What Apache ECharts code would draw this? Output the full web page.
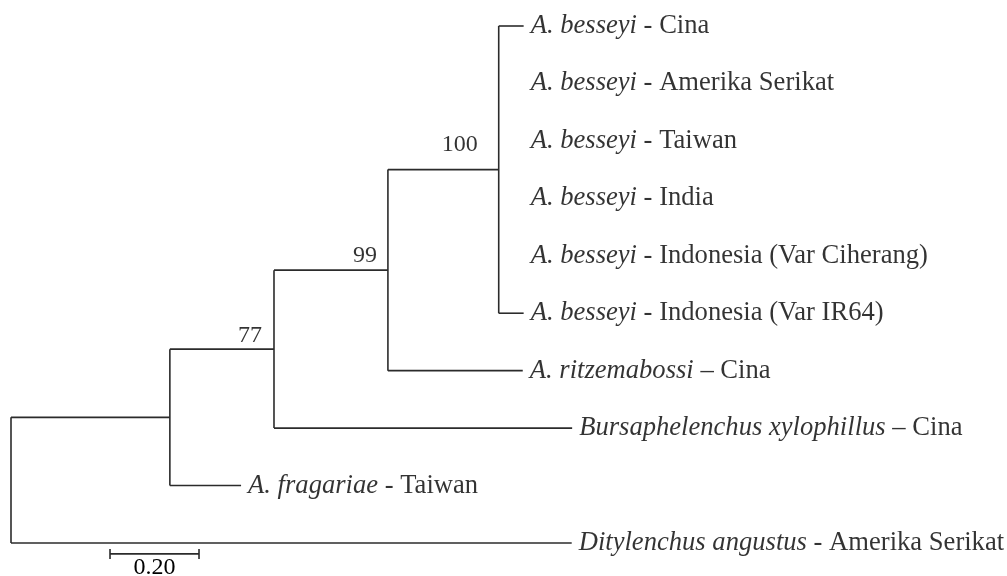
<!DOCTYPE html>
<html lang="id">
<head>
    <meta charset="utf-8">
    <script type="text/javascript" src="https://cdn.jsdelivr.net/npm/echarts@6/dist/echarts.min.js"></script>
</head>
<body style="margin: 0">
<div id="container" style="width:1007px;height:576px"></div>

<script type="text/javascript">
    // internal nodes of the tree (branch length = distance to parent)
    var innerNames = ['root', 'nA', 'n77', 'n99', 'n100'];
    var innerParent = [null, 'root', 'nA', 'n77', 'n99'];
    var innerLength = [0, 0.357, 0.234, 0.256, 0.249];
    var innerSupport = [null, null, 77, 99, 100];

    // tips, top to bottom
    var tipSpecies = ['A. besseyi', 'A. besseyi', 'A. besseyi', 'A. besseyi', 'A. besseyi', 'A. besseyi',
        'A. ritzemabossi', 'Bursaphelenchus xylophillus', 'A. fragariae', 'Ditylenchus angustus'];
    var tipPlace = [' - Cina', ' - Amerika Serikat', ' - Taiwan', ' - India', ' - Indonesia (Var Ciherang)',
        ' - Indonesia (Var IR64)', ' \u2013 Cina', ' \u2013 Cina', ' - Taiwan', ' - Amerika Serikat'];
    var tipParent = ['n100', 'n100', 'n100', 'n100', 'n100', 'n100', 'n99', 'n77', 'nA', 'root'];
    var tipLength = [0.056, 0, 0, 0, 0, 0.056, 0.303, 0.670, 0.160, 1.260];

    var scaleBarLength = 0.20;
    var scaleBarStart = 0.2225;
    var scaleBarText = '0.20';

    // label placement for support values (style only)
    var supportLabel = {
        77: {distance: 12, offset: [0, -13]},
        99: {distance: 11, offset: [0, -14]},
        100: {distance: 21, offset: [0, -25]}
    };

    var lineColor = '#2b2b2b';
    var serif = 'Liberation Serif';
    var tipFont = 26.6;

    // build tree layout: x = cumulative branch length, y = row
    var nodes = {};
    innerNames.forEach(function (n, i) {
        nodes[n] = {name: n, parent: innerParent[i], len: innerLength[i], support: innerSupport[i], children: []};
    });
    var tips = [];
    tipSpecies.forEach(function (s, i) {
        var t = {name: 'tip' + i, parent: tipParent[i], len: tipLength[i], row: i, tip: true, children: []};
        nodes[t.name] = t;
        tips.push(t);
    });
    var order = innerNames.concat(tips.map(function (t) { return t.name; }));
    order.forEach(function (n) {
        var nd = nodes[n];
        if (nd.parent) nodes[nd.parent].children.push(nd);
    });
    function setX(nd, x) {
        nd.x = x + nd.len;
        nd.children.forEach(function (c) { setX(c, nd.x); });
    }
    setX(nodes.root, 0);
    function setY(nd) {
        if (nd.tip) { nd.y = nd.row; return nd.y; }
        var ys = nd.children.map(setY);
        nd.minY = Math.min.apply(null, ys);
        nd.maxY = Math.max.apply(null, ys);
        nd.y = (nd.minY + nd.maxY) / 2;
        return nd.y;
    }
    setY(nodes.root);

    var segments = [];
    order.forEach(function (n) {
        var nd = nodes[n];
        if (nd.parent && nd.len > 0) {
            segments.push([nodes[nd.parent].x, nd.y, nd.x, nd.y]);
        }
        if (!nd.tip) {
            segments.push([nd.x, nd.minY, nd.x, nd.maxY]);
        }
    });

    var tipData = tips.map(function (t, i) {
        // labels of a clade line up at the longest sibling tip
        var lx = t.x;
        nodes[t.parent].children.forEach(function (c) { if (c.tip) lx = Math.max(lx, c.x); });
        return {value: [lx, t.y], name: tipSpecies[i], place: tipPlace[i]};
    });

    var supportData = [];
    innerNames.forEach(function (n) {
        var nd = nodes[n];
        if (nd.support != null) {
            var st = supportLabel[nd.support];
            supportData.push({
                value: [nodes[nd.parent].x + nd.len, nd.y, nd.support],
                label: {distance: st.distance, offset: st.offset}
            });
        }
    });

    var scaleRow = tips.length - 1 + 0.19;

    var dom = document.getElementById('container');
    var myChart = echarts.init(dom);
    var option = {
        animation: false,
        backgroundColor: '#fff',
        grid: {left: 11, right: 0, top: 26, height: 517},
        xAxis: {type: 'value', min: 0, max: 996 / 445, show: false},
        yAxis: {type: 'value', min: 0, max: tips.length - 1, inverse: true, show: false},
        series: [
            {
                type: 'custom',
                data: segments,
                encode: {x: [0, 2], y: [1, 3]},
                renderItem: function (params, api) {
                    var a = api.coord([api.value(0), api.value(1)]);
                    var b = api.coord([api.value(2), api.value(3)]);
                    return {
                        type: 'line',
                        shape: {x1: a[0], y1: a[1], x2: b[0], y2: b[1]},
                        style: {stroke: lineColor, lineWidth: 1.6}
                    };
                }
            },
            {
                type: 'scatter',
                symbolSize: 0,
                data: tipData,
                label: {
                    show: true,
                    position: 'right',
                    distance: 7,
                    color: '#000',
                    fontFamily: serif,
                    fontSize: tipFont,
                    formatter: function (p) {
                        return '{i|' + p.data.name + '}{n|' + p.data.place + '}';
                    },
                    rich: {
                        i: {fontStyle: 'italic', fontFamily: serif, fontSize: tipFont, color: '#000'},
                        n: {fontFamily: serif, fontSize: tipFont, color: '#000'}
                    }
                }
            },
            {
                type: 'scatter',
                symbolSize: 0,
                data: supportData,
                label: {
                    show: true,
                    position: 'left',
                    color: '#000',
                    fontFamily: serif,
                    fontSize: 24,
                    formatter: function (p) { return p.value[2]; }
                }
            },
            {
                type: 'custom',
                data: [[scaleBarStart, scaleRow, scaleBarStart + scaleBarLength]],
                encode: {x: [0, 2], y: 1},
                renderItem: function (params, api) {
                    var a = api.coord([api.value(0), api.value(1)]);
                    var b = api.coord([api.value(2), api.value(1)]);
                    var st = {stroke: lineColor, lineWidth: 1.6};
                    return {
                        type: 'group',
                        children: [
                            {type: 'line', shape: {x1: a[0], y1: a[1], x2: b[0], y2: b[1]}, style: st},
                            {type: 'line', shape: {x1: a[0], y1: a[1] - 5, x2: a[0], y2: a[1] + 5}, style: st},
                            {type: 'line', shape: {x1: b[0], y1: b[1] - 5, x2: b[0], y2: b[1] + 5}, style: st},
                            {
                                type: 'text',
                                style: {
                                    text: scaleBarText,
                                    x: (a[0] + b[0]) / 2,
                                    y: a[1] + 2,
                                    align: 'center',
                                    verticalAlign: 'top',
                                    fontFamily: serif,
                                    fontSize: 24,
                                    fill: '#000'
                                }
                            }
                        ]
                    };
                }
            }
        ]
    };
    myChart.setOption(option);
</script>
</body>
</html>
